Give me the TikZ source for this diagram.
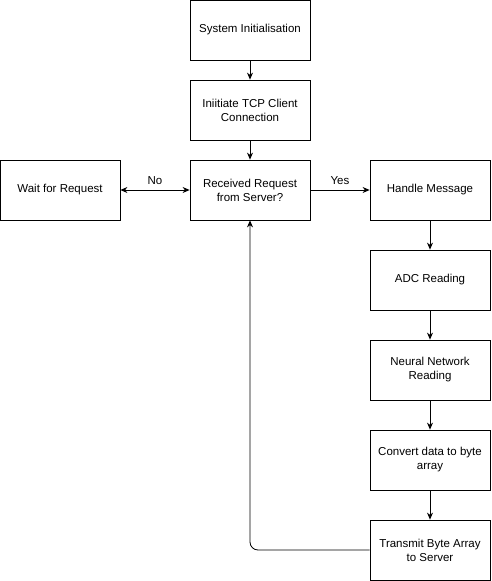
\documentclass[tikz,border=0pt]{standalone}
\usepackage{fontspec}
\setmainfont{Liberation Sans}
\usetikzlibrary{arrows.meta}

\tikzset{
  stepbox/.style={draw, line width=0.8pt, minimum width=120pt, minimum height=60pt,
    align=center, inner sep=2pt, font=\fontsize{11.5}{14}\selectfont},
  flow/.style={draw, line width=0.8pt, -{Stealth[length=7pt,width=6pt]}},
  lbl/.style={font=\fontsize{11.5}{14}\selectfont}
}

\begin{document}
\begin{tikzpicture}[x=1pt, y=-1pt]
    \useasboundingbox (0,0) rectangle (491,581);

    % Main column
    \node[stepbox] (init) at (250,30) {System Initialisation};
    \node[stepbox] (tcp) at (250,110) {Iniitiate TCP Client\\Connection};
    \node[stepbox] (recv) at (250,190) {Received Request\\from Server?};

    % Side branches
    \node[stepbox] (wait) at (60,190) {Wait for Request};
    \node[stepbox] (handle) at (430,190) {Handle Message};

    % Right column
    \node[stepbox] (adc) at (430,280) {ADC Reading};
    \node[stepbox] (nn) at (430,370) {Neural Network\\Reading};
    \node[stepbox] (conv) at (430,460) {Convert data to byte\\array};
    \node[stepbox] (tx) at (430,550) {Transmit Byte Array\\to Server};

    % Connectors
    \draw[flow] (init) -- (tcp);
    \draw[flow] (tcp) -- (recv);
    \draw[flow, {Stealth[length=7pt,width=6pt]}-{Stealth[length=7pt,width=6pt]}] (recv) -- node[lbl, above=2pt] {No} (wait);
    \draw[flow] (recv) -- node[lbl, above=2pt] {Yes} (handle);
    \draw[flow] (handle) -- (adc);
    \draw[flow] (adc) -- (nn);
    \draw[flow] (nn) -- (conv);
    \draw[flow] (conv) -- (tx);
    \draw[flow, rounded corners=8pt] (tx.west) -| (recv.south);
\end{tikzpicture}
\end{document}
